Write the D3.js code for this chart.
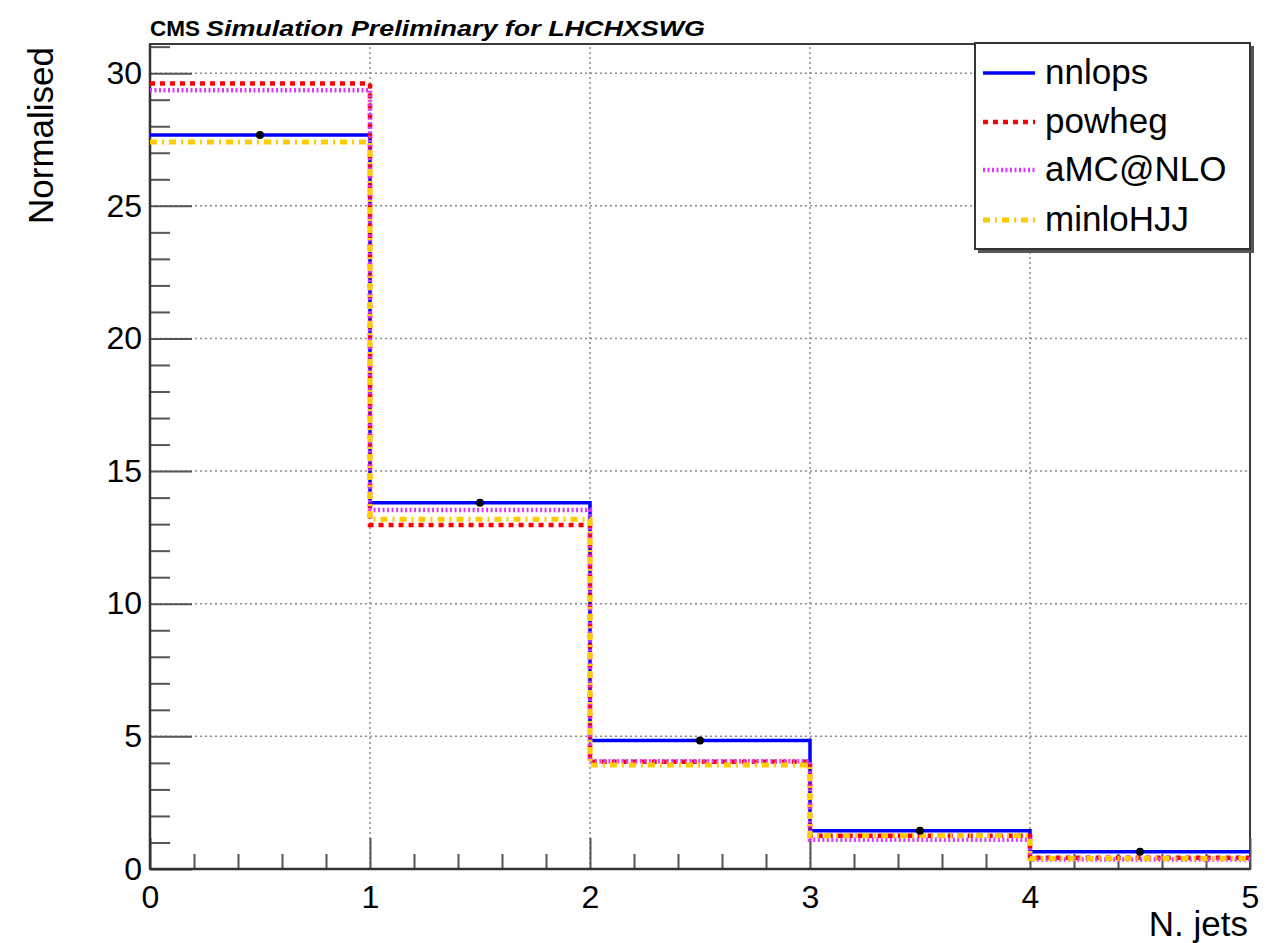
<!DOCTYPE html>
<html>
<head>
<meta charset="utf-8">
<script src="https://cdn.jsdelivr.net/npm/d3@7"></script>
<style>
  html, body { margin: 0; padding: 0; background: #fff; }
  svg { display: block; font-family: "Liberation Sans", Arial, sans-serif; }
</style>
</head>
<body>
<svg id="chart" width="1279" height="943"></svg>
<script>
// Jet multiplicity, normalised, for four generators
const binEdges = [0, 1, 2, 3, 4, 5];
const nnlops = [27.67, 13.81, 4.84, 1.44, 0.65];
const powheg = [29.61, 12.97, 4.04, 1.25, 0.42];
const amcnlo = [29.36, 13.53, 4.06, 1.10, 0.36];
const minlo  = [27.41, 13.18, 3.92, 1.25, 0.40];
const seriesNames = ["nnlops", "powheg", "aMC@NLO", "minloHJJ"];
const xMajorTicks = [0, 1, 2, 3, 4, 5];
const yMajorTicks = [0, 5, 10, 15, 20, 25, 30];

const svg = d3.select("#chart");
const L = 150, R = 1250, T = 44, B = 869;

const x = d3.scaleLinear().domain([0, 5]).range([L, R]);
const y = d3.scaleLinear().domain([0, 31.1]).range([B, T]);

const styles = [
  { color: "#0000ff", width: 3.5, dash: null },
  { color: "#ff0000", width: 4.5, dash: "5,5" },
  { color: "#d63cff", width: 4.5, dash: "2,2.5" },
  { color: "#ffcc00", width: 5, dash: "7,5,2,5" }
];
const allSeries = [nnlops, powheg, amcnlo, minlo];

// dotted grid at major ticks
const grid = svg.append("g").attr("stroke", "#8a8a8a").attr("stroke-width", 1.5)
  .attr("stroke-dasharray", "2,3");
grid.selectAll("line.gx").data(xMajorTicks.slice(1, -1)).join("line")
  .attr("x1", d => x(d)).attr("x2", d => x(d)).attr("y1", B).attr("y2", T);
grid.selectAll("line.gy").data(yMajorTicks.slice(1)).join("line")
  .attr("x1", L).attr("x2", R).attr("y1", d => y(d)).attr("y2", d => y(d));

// frame
svg.append("rect").attr("x", L).attr("y", T).attr("width", R - L).attr("height", B - T)
  .attr("fill", "none").attr("stroke", "#3a3a3a").attr("stroke-width", 2);

// axes (ticks drawn inward, ROOT style)
const yMinor = d3.range(0, 32, 1).filter(v => v % 5 !== 0 && v <= 31);
const xMinor = d3.range(0, 5.001, 0.2).map(v => +v.toFixed(1)).filter(v => Math.abs(v - Math.round(v)) > 1e-6);

function styleAxis(g) {
  g.select(".domain").remove();
  g.selectAll(".tick line").attr("stroke", "#555").attr("stroke-width", 2);
  g.selectAll(".tick text").attr("fill", "#000").attr("font-size", 32)
    .attr("font-family", "'Liberation Sans', Arial, sans-serif");
}

svg.append("g").attr("transform", `translate(${L},0)`)
  .call(d3.axisLeft(y).tickValues(yMinor).tickSize(-20).tickFormat(""))
  .call(styleAxis);
svg.append("g").attr("transform", `translate(${L},0)`)
  .call(d3.axisLeft(y).tickValues(yMajorTicks).tickSize(-42).tickPadding(8).tickFormat(d3.format("d")))
  .call(styleAxis);
svg.append("g").attr("transform", `translate(0,${B})`)
  .call(d3.axisBottom(x).tickValues(xMinor).tickSize(-15).tickFormat(""))
  .call(styleAxis);
svg.append("g").attr("transform", `translate(0,${B})`)
  .call(d3.axisBottom(x).tickValues(xMajorTicks).tickSize(-31).tickPadding(16).tickFormat(d3.format("d")))
  .call(styleAxis);

// bottom/left axis lines over the ticks
svg.append("line").attr("x1", L).attr("x2", R).attr("y1", B).attr("y2", B)
  .attr("stroke", "#333").attr("stroke-width", 2.5);
svg.append("line").attr("x1", L).attr("x2", L).attr("y1", B).attr("y2", T)
  .attr("stroke", "#333").attr("stroke-width", 2.5);

// step histograms
const step = d3.line().x(d => x(d[0])).y(d => y(d[1])).curve(d3.curveStepAfter);
allSeries.forEach((vals, i) => {
  const pts = binEdges.map((e, k) => [e, vals[Math.min(k, vals.length - 1)]]);
  svg.append("path").attr("d", step(pts))
    .attr("fill", "none")
    .attr("stroke", styles[i].color)
    .attr("stroke-width", styles[i].width)
    .attr("stroke-dasharray", styles[i].dash);
});

// nnlops markers at bin centres
svg.selectAll("circle.mk").data(nnlops).join("circle")
  .attr("cx", (d, k) => x((binEdges[k] + binEdges[k + 1]) / 2))
  .attr("cy", d => y(d)).attr("r", 4).attr("fill", "#000");

// axis titles
svg.append("text").attr("transform", `translate(53,47) rotate(-90)`)
  .attr("text-anchor", "end").attr("font-size", 35).text("Normalised");
svg.append("text").attr("x", 1248).attr("y", 936).attr("text-anchor", "end")
  .attr("font-size", 35).text("N. jets");

// header
svg.append("text").attr("x", 150).attr("y", 36).attr("font-size", 22).attr("font-weight", "bold")
  .attr("textLength", 50).attr("lengthAdjust", "spacingAndGlyphs")
  .text("CMS");
svg.append("text").attr("x", 206).attr("y", 36).attr("font-size", 22).attr("font-style", "italic")
  .attr("font-weight", "bold")
  .attr("textLength", 499).attr("lengthAdjust", "spacingAndGlyphs")
  .text("Simulation Preliminary for LHCHXSWG");

// legend
const lg = svg.append("g");
lg.append("rect").attr("x", 978).attr("y", 46).attr("width", 276).attr("height", 207).attr("fill", "#555");
lg.append("rect").attr("x", 975).attr("y", 43).attr("width", 275).attr("height", 206)
  .attr("fill", "#fff").attr("stroke", "#333").attr("stroke-width", 2);
const rowY = [73, 122, 170, 220];
seriesNames.forEach((name, i) => {
  lg.append("line").attr("x1", 983).attr("x2", 1035).attr("y1", rowY[i]).attr("y2", rowY[i])
    .attr("stroke", styles[i].color).attr("stroke-width", styles[i].width)
    .attr("stroke-dasharray", styles[i].dash);
  lg.append("text").attr("x", 1045).attr("y", rowY[i]).attr("dy", "0.32em")
    .attr("font-size", 35).text(name);
});
</script>
</body>
</html>
